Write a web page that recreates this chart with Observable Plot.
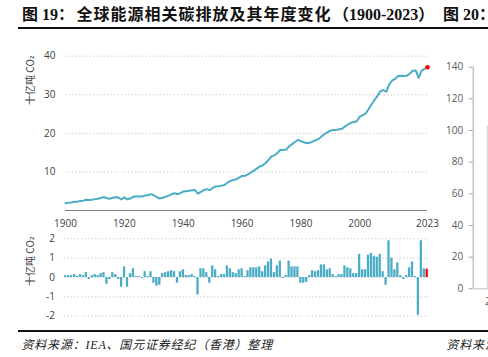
<!DOCTYPE html>
<html>
<head>
<meta charset="utf-8">
<script src="https://cdn.jsdelivr.net/npm/d3@7"></script>
<script src="https://cdn.jsdelivr.net/npm/@observablehq/plot@0.6"></script>
<style>
  html, body { margin: 0; padding: 0; background: #fff; }
  #root { position: relative; width: 488px; height: 357px; overflow: hidden; background: #fff; }
  .abs { position: absolute; white-space: nowrap; }
  .title { font-family: "Liberation Serif", "Noto Sans CJK SC", serif; font-weight: bold; font-size: 16px; line-height: 16px; color: #111; }
  .src { font-family: "Liberation Serif", "Noto Sans CJK SC", serif; font-style: italic; font-size: 12px; line-height: 12px; letter-spacing: 0.8px; color: #222; }
  .ylab { font-family: "Noto Sans CJK SC", "DejaVu Sans", sans-serif; font-size: 10px; line-height: 12px; color: #404040; width: 70px; text-align: center; transform: rotate(-90deg); transform-origin: 35px 6px; }
  .rule { position: absolute; background: #111; height: 2px; }
  svg { overflow: visible; }
</style>
</head>
<body>
<div id="root">
  <div class="abs title" style="left:22px; top:6.5px;">图 19：</div>
  <div class="abs title" style="left:76.5px; top:6.5px; letter-spacing:1px;">全球能源相关碳排放及其年度变化</div>
  <div class="abs title" style="left:333px; top:6.5px;">（1900-2023）</div>
  <div class="abs title" style="left:443px; top:6.5px;">图 20：</div>
  <div class="rule" style="left:18px; top:27px; width:470px;"></div>

  <div id="top" class="abs" style="left:0; top:40px;"></div>
  <div id="bottom" class="abs" style="left:0; top:230px;"></div>
  <div id="right" class="abs" style="left:430px; top:40px;"></div>

  <div class="abs ylab" style="left:-5px; top:74px;">十亿吨 CO₂</div>
  <div class="abs ylab" style="left:-5px; top:255px;">十亿吨 CO₂</div>
  <div class="abs" style="left:485px; top:294px; font-family:'Open Sans',sans-serif; font-size:10px; color:#595959;">2</div>

  <div class="rule" style="left:18px; top:329.5px; width:470px;"></div>
  <div class="abs src" style="left:21.5px; top:338.5px;">资料来源：IEA、国元证券经纪（香港）整理</div>
  <div class="abs src" style="left:446.5px; top:338.5px;">资料来源</div>
</div>
<script>
// ---- data ----
const years = d3.range(1900, 2024);
const emissions = [
  1.9, 2.0, 2.1, 2.25, 2.3, 2.45, 2.55, 2.8, 2.7, 2.8,
  2.95, 3.05, 3.25, 3.5, 3.15, 3.05, 3.3, 3.45, 3.35, 2.85,
  3.4, 2.9, 3.1, 3.55, 3.6, 3.65, 3.6, 3.9, 3.95, 4.25,
  3.95, 3.5, 3.1, 3.3, 3.55, 3.85, 4.2, 4.5, 4.2, 4.5,
  4.9, 5.0, 5.1, 5.25, 5.3, 4.4, 4.85, 5.3, 5.55, 5.25,
  5.85, 6.25, 6.3, 6.45, 6.6, 7.2, 7.65, 7.9, 8.1, 8.5,
  8.95, 9.0, 9.35, 9.85, 10.35, 10.85, 11.4, 11.7, 12.3, 13.1,
  14.05, 14.3, 14.9, 15.75, 15.7, 15.8, 16.65, 17.2, 17.75, 18.3,
  18.0, 17.7, 17.45, 17.55, 17.9, 18.2, 18.55, 19.2, 19.85, 20.25,
  20.7, 20.85, 20.9, 21.05, 21.2, 21.8, 22.3, 22.75, 22.95, 23.15,
  24.35, 24.75, 25.15, 26.3, 27.55, 28.65, 29.7, 30.9, 31.2, 30.8,
  32.7, 33.7, 34.1, 34.85, 34.95, 34.85, 34.95, 35.45, 36.25, 36.3,
  34.35, 36.25, 36.7, 37.15
];
const changes = [
  0.1, 0.1, 0.1, 0.15, 0.05, 0.15, 0.1, 0.25, -0.1, 0.1,
  0.15, 0.1, 0.2, 0.25, -0.35, -0.1, 0.25, 0.15, -0.1, -0.5,
  0.55, -0.5, 0.2, 0.45, 0.05, 0.05, -0.05, 0.3, 0.05, 0.3,
  -0.3, -0.45, -0.4, 0.2, 0.25, 0.3, 0.35, 0.3, -0.3, 0.3,
  0.4, 0.1, 0.1, 0.15, 0.05, -0.9, 0.45, 0.45, 0.25, -0.3,
  0.6, 0.4, 0.05, 0.15, 0.15, 0.6, 0.45, 0.25, 0.2, 0.4,
  0.45, 0.05, 0.35, 0.5, 0.5, 0.5, 0.55, 0.3, 0.6, 0.8,
  0.95, 0.25, 0.6, 0.85, -0.05, 0.1, 0.85, 0.55, 0.55, 0.55,
  -0.3, -0.3, -0.25, 0.1, 0.35, 0.3, 0.35, 0.65, 0.65, 0.4,
  0.45, 0.15, 0.05, 0.15, 0.15, 0.6, 0.5, 0.45, 0.2, 0.2,
  1.2, 0.4, 0.4, 1.15, 1.25, 1.1, 1.05, 1.2, 0.3, -0.4,
  1.9, 1.0, 0.4, 0.75, 0.1, -0.1, 0.1, 0.5, 0.8, 0.05,
  -1.95, 1.9, 0.45, 0.43
];
const xTicks = [1900, 1920, 1940, 1960, 1980, 2000, 2023];
const yTicksTop = [10, 20, 30, 40];
const yTicksBottom = [-2, -1, 0, 1, 2];
const yTicksRight = [0, 20, 40, 60, 80, 100, 120, 140];

const levelData = years.map((y, i) => ({year: y, value: emissions[i]}));
const changeData = years.map((y, i) => ({year: y, change: changes[i], latest: y === 2023}));
const lastPoint = levelData.filter(d => d.year === 2023);

const LINE = "#4bacc6";
const GRID = "#cfcfcf";
const FONT = "'Open Sans', 'Noto Sans', sans-serif";

const topChart = Plot.plot({
  width: 488, height: 192,
  marginLeft: 65, marginRight: 61, marginTop: 15.7, marginBottom: 22,
  x: {domain: [1900, 2023]},
  y: {domain: [0, 40]},
  style: {fontFamily: FONT, fontSize: "10px", color: "#404040", background: "transparent"},
  marks: [
    Plot.gridY(yTicksTop, {stroke: GRID, strokeOpacity: 1, strokeDasharray: "1.5,2"}),
    Plot.axisY({ticks: yTicksTop, tickSize: 0, tickPadding: 10, label: null}),
    Plot.axisX({ticks: xTicks, tickSize: 0, tickPadding: 9, tickFormat: d => String(d), label: null}),
    Plot.ruleY([0], {stroke: "#7f7f7f", strokeWidth: 1}),
    Plot.lineY(levelData, {x: "year", y: "value", stroke: LINE, strokeWidth: 2}),
    Plot.dot(lastPoint, {x: "year", y: "value", fill: "#ff0000", r: 2.3})
  ]
});
document.getElementById("top").appendChild(topChart);

const bottomChart = Plot.plot({
  width: 488, height: 100,
  marginLeft: 63.5, marginRight: 59.5, marginTop: 8.3, marginBottom: 14.3,
  x: {type: "band", domain: years, padding: 0.22, axis: null},
  y: {domain: [-2, 2]},
  style: {fontFamily: FONT, fontSize: "10px", color: "#404040", background: "transparent"},
  marks: [
    Plot.gridY(yTicksBottom, {stroke: GRID, strokeOpacity: 1, strokeDasharray: "1.5,2"}),
    Plot.axisY({ticks: yTicksBottom, tickSize: 0, tickPadding: 9, tickFormat: d => String(d), label: null}),
    Plot.barY(changeData, {x: "year", y: "change", fill: d => d.latest ? "#ff0000" : LINE})
  ]
});
document.getElementById("bottom").appendChild(bottomChart);

const rightChart = Plot.plot({
  width: 58, height: 270,
  marginLeft: 42.7, marginRight: 0, marginTop: 26.7, marginBottom: 21.7,
  x: {domain: [0, 1], axis: null},
  y: {domain: [0, 140]},
  style: {fontFamily: FONT, fontSize: "10px", color: "#595959", background: "transparent"},
  marks: [
    Plot.axisY({ticks: yTicksRight, tickSize: 4, tickPadding: 6, label: null, stroke: "#a6a6a6"}),
    Plot.ruleX([0], {y1: 0, y2: 140, stroke: "#a6a6a6"}),
    Plot.ruleY([0], {x1: 0, x2: 1, stroke: "#bfbfbf"}),
    Plot.ruleX([0.915], {y1: 0, y2: 103, stroke: "#d0d0d0"})
  ]
});
document.getElementById("right").appendChild(rightChart);
</script>
</body>
</html>
